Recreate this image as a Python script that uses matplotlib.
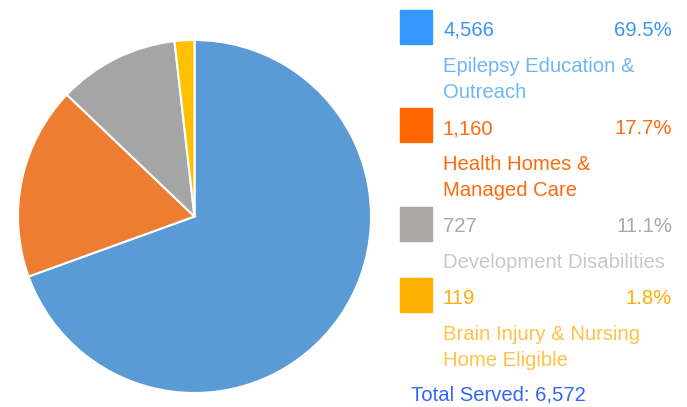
import matplotlib
matplotlib.use("Agg")
import matplotlib.pyplot as plt
from matplotlib.patches import Rectangle

categories = ["Epilepsy Education &\nOutreach", "Health Homes &\nManaged Care",
              "Development Disabilities", "Brain Injury & Nursing\nHome Eligible"]
counts = [4566, 1160, 727, 119]
percents = ["69.5%", "17.7%", "11.1%", "1.8%"]
total = 6572

slice_colors = ["#5B9BD5", "#ED7D31", "#A5A5A5", "#FFC000"]
square_colors = ["#3399FF", "#FF6600", "#ABA7A6", "#FFB000"]
num_colors = ["#3D95F0", "#FF6A0D", "#A8A8A8", "#FFAD0A"]
label_colors = ["#6EB6F7", "#FF6A0D", "#C8C8C8", "#FFC247"]

W, H = 687, 407
fig = plt.figure(figsize=(W / 100, H / 100), dpi=100)
plt.rcParams['font.family'] = ['Liberation Sans', 'DejaVu Sans']

cx, cy, r = 194.5, 216.5, 176.5
ax = fig.add_axes([(cx - r) / W, (H - cy - r) / H, 2 * r / W, 2 * r / H])
ax.pie(counts, colors=slice_colors, startangle=90, counterclock=False,
       wedgeprops=dict(edgecolor="white", linewidth=1.5), radius=1)
ax.set_xlim(-1, 1)
ax.set_ylim(-1, 1)
ax.set_aspect("equal")
ax.axis("off")

lax = fig.add_axes([0, 0, 1, 1])
lax.set_xlim(0, W)
lax.set_ylim(H, 0)
lax.axis("off")

sq_tops = [10, 108, 207, 278]
num_y = [28, 127, 225, 297]
lab_y = [64, 162, 261, 332]
fs = 14.6
for i in range(4):
    lax.add_patch(Rectangle((400, sq_tops[i]), 32, 34, color=square_colors[i]))
    lax.text(443, num_y[i], f"{counts[i]:,}", color=num_colors[i], fontsize=fs,
             va="center_baseline", ha="left")
    lax.text(672, num_y[i], percents[i], color=num_colors[i], fontsize=fs,
             va="center_baseline", ha="right")
    for j, line in enumerate(categories[i].split("\n")):
        lax.text(443, lab_y[i] + 26 * j, line, color=label_colors[i], fontsize=fs,
                 va="center_baseline", ha="left")
lax.text(411, 393, f"Total Served: {total:,}", color="#3366FF", fontsize=fs,
         va="center_baseline", ha="left")

fig.savefig("out.png", dpi=100)
